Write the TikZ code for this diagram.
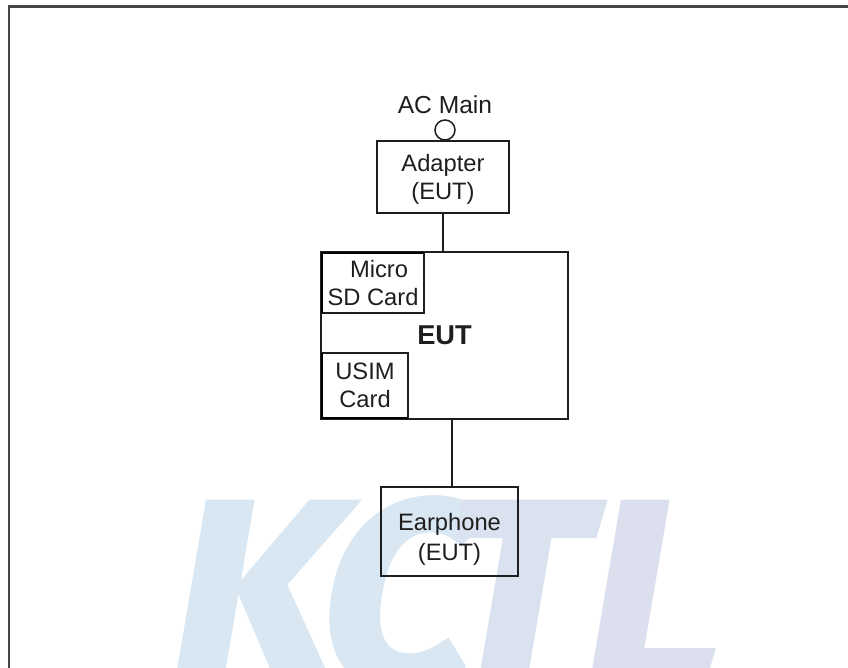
\documentclass[tikz,border=0pt]{standalone}
\usepackage{fontspec}
\setmainfont{Liberation Sans}
\newfontfamily\markfont[FakeSlant=0.17,FakeBold=2]{Fira Sans Bold}
\usetikzlibrary{positioning,calc}
\definecolor{MarkBlue}{RGB}{217,231,243}
\definecolor{MarkMid}{RGB}{219,226,239}
\definecolor{MarkLav}{RGB}{220,223,238}
\definecolor{FrameGray}{RGB}{70,70,70}
\definecolor{InkDark}{RGB}{30,30,30}
\tikzset{
  basebox/.style={rectangle,draw=InkDark,line width=0.85pt,align=center,inner sep=0pt,outer sep=0pt,text=InkDark,
    font=\fontsize{13.5}{16}\selectfont},
  cardbox/.style={basebox},
  heavyline/.style={draw=black,line width=1.7pt},
  wire/.style={draw=InkDark,line width=0.85pt},
  framerule/.style={draw=FrameGray,line width=1.4pt},
  markletter/.style={inner sep=0pt,outer sep=0pt,anchor=base west,font=\markfont\fontsize{150}{150}\selectfont}
}
\begin{document}
\begin{tikzpicture}[x=0.2mm,y=-0.2mm]
  \useasboundingbox (0,0) rectangle (848,668);
  % watermark
  \begin{scope}
    \clip (0,0) rectangle (848,668);
    \node[markletter,text=MarkBlue] (markk) at (160,685) {K};
    \node[markletter,text=MarkBlue] (markc) at (310,685) {C};
    \node[markletter,text=MarkMid] (markt) at (431,685) {T};
    \node[markletter,text=MarkLav] (markl) at (575,685) {L};
  \end{scope}
  % frame
  \coordinate (framecorner) at (9,6.5);
  \coordinate (frameright) at (848,6.5);
  \coordinate (framebottom) at (9,668);
  \draw[framerule] (frameright) -- (framecorner) -- (framebottom);
  % boxes
  \node[basebox,minimum width=2.64cm,minimum height=1.44cm] (adapter) at (443,177) {\rule{0pt}{0.44cm}Adapter\\(EUT)};
  \node[basebox,minimum width=4.94cm,minimum height=3.34cm,font=\fontsize{15.5}{18}\selectfont\bfseries] (eut) at (444.5,335.5) {EUT};
  \node[cardbox,minimum width=2.04cm,minimum height=1.2cm] (micro) at (373,283) {\hspace*{0.24cm}Micro\\SD Card};
  \node[cardbox,minimum width=1.72cm,minimum height=1.3cm] (usim) at (365,385.5) {USIM\\Card};
  \node[basebox,minimum width=2.74cm,minimum height=1.78cm,font=\fontsize{13.5}{17.5}\selectfont] (earphone) at (449.5,531.5) {\rule{0pt}{0.66cm}Earphone\\(EUT)};
  \node[circle,draw=InkDark,line width=0.85pt,minimum size=0.4cm,inner sep=0pt,outer sep=0pt] (acport) at (445,130) {};
  \node[above=0.12cm of acport,inner sep=0pt,text=InkDark,font=\fontsize{14}{16}\selectfont] (acmain) {AC Main};
  % heavy edges of the cards
  \draw[heavyline] (micro.south west) -- (micro.north west) -- (micro.north east);
  \draw[heavyline] (usim.north west) -- (usim.south west) -- (usim.south east);
  % wires
  \coordinate (tap) at ($(eut.south)+(7.5,0)$);
  \draw[wire] (adapter.south) -- (adapter.south |- eut.north);
  \draw[wire] (tap) -- (tap |- earphone.north);
\end{tikzpicture}
\end{document}
